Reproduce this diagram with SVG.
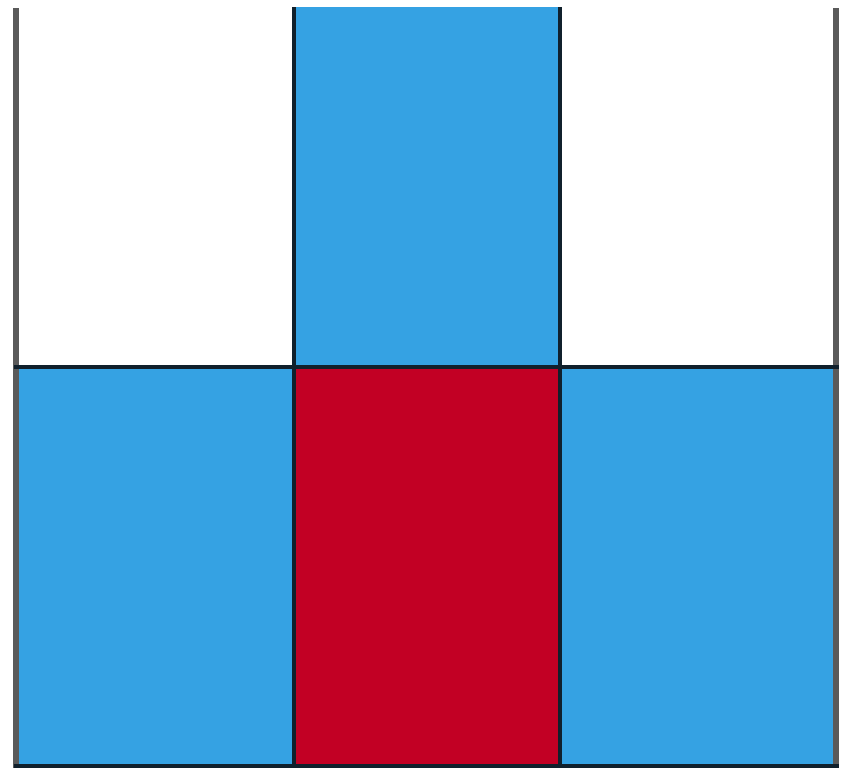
<svg xmlns="http://www.w3.org/2000/svg" width="848" height="775" viewBox="0 0 848 775">
<style>
.blue{fill:#35a2e3}
.red{fill:#c20024}
.dark{stroke:#10202c;stroke-width:4;fill:none}
.gray{stroke:#5a5a5a;stroke-width:6;fill:none}
</style>
<rect width="848" height="775" fill="#ffffff"/>
<g id="cell-top-mid"><rect class="blue" x="294" y="7" width="266" height="360"/></g>
<g id="cell-bot-left"><rect class="blue" x="16" y="367" width="278" height="399"/></g>
<g id="cell-bot-mid"><rect class="red" x="294" y="367" width="266" height="399"/></g>
<g id="cell-bot-right"><rect class="blue" x="560" y="367" width="276" height="399"/></g>
<g id="lines">
<line class="gray" x1="16" y1="8" x2="16" y2="768"/>
<line class="gray" x1="836" y1="8" x2="836" y2="768"/>
<line class="dark" x1="294" y1="7" x2="294" y2="768"/>
<line class="dark" x1="560" y1="7" x2="560" y2="768"/>
<line class="dark" x1="14" y1="367" x2="839" y2="367"/>
<line class="dark" x1="14" y1="766" x2="839" y2="766"/>
</g>
</svg>
